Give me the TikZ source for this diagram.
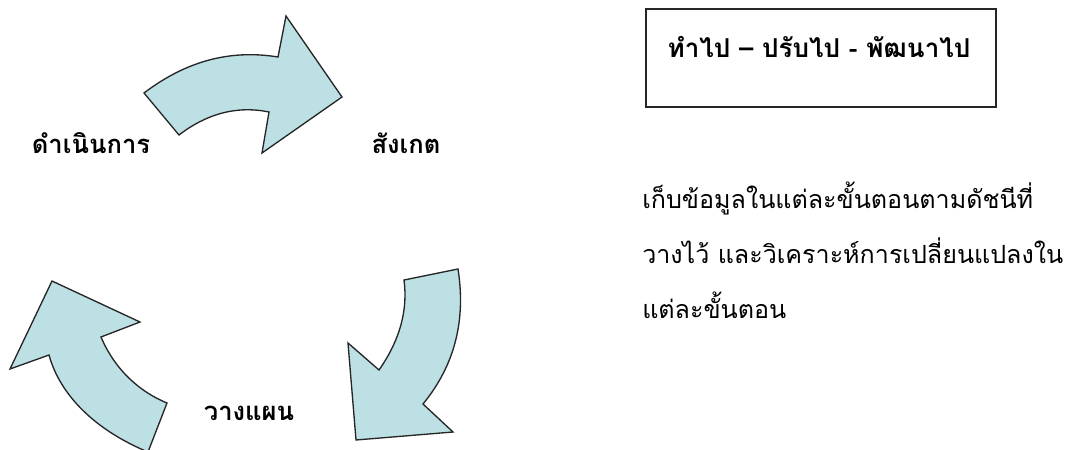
\documentclass[tikz,border=0pt]{standalone}
\usepackage{fontspec}
\newfontfamily\thaifont[Script=Thai]{Loma}
\usepackage{xcolor}
\definecolor{arrowfill}{RGB}{188,224,227}

\tikzset{
  cyclearrow/.style={draw=black!85, line width=1pt, fill=arrowfill, line join=miter},
  steplabel/.style={font=\thaifont\bfseries\fontsize{19.2}{23}\selectfont},
  mottobox/.style={draw=black!85, line width=1.2pt, minimum width=262.5pt, minimum height=73.5pt, inner sep=0pt},
  notetext/.style={font=\thaifont\fontsize{18.8}{41}\selectfont, align=left, anchor=base west, inner sep=0pt}
}

\begin{document}
\begin{tikzpicture}[x=0.75pt, y=-0.75pt]
    \useasboundingbox (0,0) rectangle (1065,450);

    % Draw the top arrow
    \draw[cyclearrow] (144,93) .. controls (190,58) and (235,50) .. (278,57)
        -- (286,16) -- (342,97) -- (262,153) -- (269,112)
        .. controls (235,105) and (205,115) .. (179,135) -- cycle;

    % Draw the lower right arrow
    \draw[cyclearrow] (404,280) -- (458,269)
        .. controls (466,320) and (455,365) .. (423,404)
        -- (453,432) -- (356,440) -- (348,343) -- (379,370)
        .. controls (400,340) and (408,310) .. (404,280) -- cycle;

    % Draw the lower left arrow
    \draw[cyclearrow] (52,281) -- (140,322) -- (101,337)
        .. controls (115,370) and (140,392) .. (167,403)
        -- (148,452) .. controls (95,430) and (60,395) .. (49,355)
        -- (10,369) -- cycle;

    % Step labels
    \node[steplabel] (act) at (91,143) {ดำเนินการ};
    \node[steplabel] (observe) at (406,143) {สังเกต};
    \node[steplabel] (plan) at (249,413) {วางแผน};

    % Motto box
    \node[mottobox] (motto) at (821,58) {};
    \node[steplabel, font=\thaifont\bfseries\fontsize{19.5}{23}\selectfont] (mottotext) at (819,47) {ทำไป – ปรับไป - พัฒนาไป};

    % Note text
    \node[notetext] (note) at (642,318) {เก็บข้อมูลในแต่ละขั้นตอนตามดัชนีที่\\วางไว้ และวิเคราะห์การเปลี่ยนแปลงใน\\แต่ละขั้นตอน};
\end{tikzpicture}
\end{document}
